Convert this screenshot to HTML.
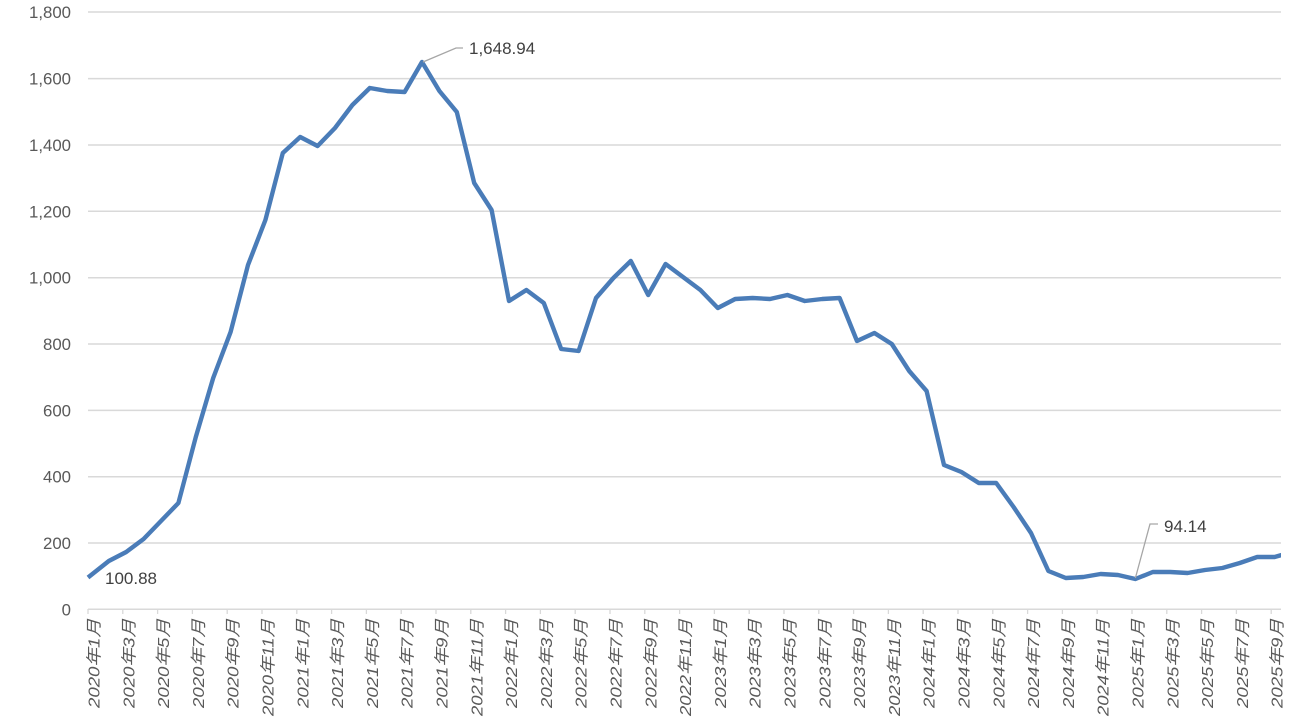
<!DOCTYPE html>
<html><head><meta charset="utf-8"><style>
html,body{margin:0;padding:0;background:#fff;}
svg{display:block;}
.yl{font-family:"Liberation Sans","Noto Sans CJK SC",sans-serif;font-size:16.8px;fill:#595959;}
.xl{font-family:"Liberation Sans","Noto Sans CJK SC",sans-serif;font-size:16px;fill:#595959;font-style:italic;}
.dl{font-family:"Liberation Sans","Noto Sans CJK SC",sans-serif;font-size:17px;fill:#404040;}
</style></head><body>
<svg width="1295" height="723" viewBox="0 0 1295 723" xmlns="http://www.w3.org/2000/svg">
<defs><clipPath id="pc"><rect x="80" y="0" width="1201" height="640"/></clipPath></defs>
<g stroke="#d9d9d9" stroke-width="1.5">
<line x1="88" y1="12" x2="1281" y2="12"/>
<line x1="88" y1="78.6" x2="1281" y2="78.6"/>
<line x1="88" y1="145" x2="1281" y2="145"/>
<line x1="88" y1="211.3" x2="1281" y2="211.3"/>
<line x1="88" y1="277.7" x2="1281" y2="277.7"/>
<line x1="88" y1="344" x2="1281" y2="344"/>
<line x1="88" y1="410.4" x2="1281" y2="410.4"/>
<line x1="88" y1="476.7" x2="1281" y2="476.7"/>
<line x1="88" y1="543" x2="1281" y2="543"/>
<line x1="88" y1="609.3" x2="1281" y2="609.3"/>
</g>
<g class="yl" text-anchor="end">
<text x="71" y="18">1,800</text>
<text x="71" y="84.6">1,600</text>
<text x="71" y="151">1,400</text>
<text x="71" y="217.3">1,200</text>
<text x="71" y="283.7">1,000</text>
<text x="71" y="350">800</text>
<text x="71" y="416.4">600</text>
<text x="71" y="482.7">400</text>
<text x="71" y="549">200</text>
<text x="71" y="615.3">0</text>
</g>
<g stroke="#d9d9d9" stroke-width="1.3">
<line x1="88" y1="609" x2="88" y2="614"/><line x1="122.8" y1="609" x2="122.8" y2="614"/><line x1="157.6" y1="609" x2="157.6" y2="614"/><line x1="192.4" y1="609" x2="192.4" y2="614"/><line x1="227.2" y1="609" x2="227.2" y2="614"/><line x1="262" y1="609" x2="262" y2="614"/><line x1="296.8" y1="609" x2="296.8" y2="614"/><line x1="331.6" y1="609" x2="331.6" y2="614"/><line x1="366.4" y1="609" x2="366.4" y2="614"/><line x1="401.2" y1="609" x2="401.2" y2="614"/><line x1="436" y1="609" x2="436" y2="614"/><line x1="470.8" y1="609" x2="470.8" y2="614"/><line x1="505.6" y1="609" x2="505.6" y2="614"/><line x1="540.4" y1="609" x2="540.4" y2="614"/><line x1="575.2" y1="609" x2="575.2" y2="614"/><line x1="610" y1="609" x2="610" y2="614"/><line x1="644.8" y1="609" x2="644.8" y2="614"/><line x1="679.6" y1="609" x2="679.6" y2="614"/><line x1="714.4" y1="609" x2="714.4" y2="614"/><line x1="749.2" y1="609" x2="749.2" y2="614"/><line x1="784" y1="609" x2="784" y2="614"/><line x1="818.8" y1="609" x2="818.8" y2="614"/><line x1="853.6" y1="609" x2="853.6" y2="614"/><line x1="888.4" y1="609" x2="888.4" y2="614"/><line x1="923.2" y1="609" x2="923.2" y2="614"/><line x1="958" y1="609" x2="958" y2="614"/><line x1="992.8" y1="609" x2="992.8" y2="614"/><line x1="1027.6" y1="609" x2="1027.6" y2="614"/><line x1="1062.4" y1="609" x2="1062.4" y2="614"/><line x1="1097.2" y1="609" x2="1097.2" y2="614"/><line x1="1132" y1="609" x2="1132" y2="614"/><line x1="1166.8" y1="609" x2="1166.8" y2="614"/><line x1="1201.6" y1="609" x2="1201.6" y2="614"/><line x1="1236.4" y1="609" x2="1236.4" y2="614"/><line x1="1271.2" y1="609" x2="1271.2" y2="614"/>
</g>
<g class="xl" text-anchor="end">
<text transform="translate(99.5,619) rotate(-90)" textLength="89" lengthAdjust="spacingAndGlyphs">2020年1月</text>
<text transform="translate(134.3,619) rotate(-90)" textLength="89" lengthAdjust="spacingAndGlyphs">2020年3月</text>
<text transform="translate(169.1,619) rotate(-90)" textLength="89" lengthAdjust="spacingAndGlyphs">2020年5月</text>
<text transform="translate(203.9,619) rotate(-90)" textLength="89" lengthAdjust="spacingAndGlyphs">2020年7月</text>
<text transform="translate(238.7,619) rotate(-90)" textLength="89" lengthAdjust="spacingAndGlyphs">2020年9月</text>
<text transform="translate(273.5,619) rotate(-90)" textLength="97" lengthAdjust="spacingAndGlyphs">2020年11月</text>
<text transform="translate(308.3,619) rotate(-90)" textLength="89" lengthAdjust="spacingAndGlyphs">2021年1月</text>
<text transform="translate(343.1,619) rotate(-90)" textLength="89" lengthAdjust="spacingAndGlyphs">2021年3月</text>
<text transform="translate(377.9,619) rotate(-90)" textLength="89" lengthAdjust="spacingAndGlyphs">2021年5月</text>
<text transform="translate(412.7,619) rotate(-90)" textLength="89" lengthAdjust="spacingAndGlyphs">2021年7月</text>
<text transform="translate(447.5,619) rotate(-90)" textLength="89" lengthAdjust="spacingAndGlyphs">2021年9月</text>
<text transform="translate(482.3,619) rotate(-90)" textLength="97" lengthAdjust="spacingAndGlyphs">2021年11月</text>
<text transform="translate(517.1,619) rotate(-90)" textLength="89" lengthAdjust="spacingAndGlyphs">2022年1月</text>
<text transform="translate(551.9,619) rotate(-90)" textLength="89" lengthAdjust="spacingAndGlyphs">2022年3月</text>
<text transform="translate(586.7,619) rotate(-90)" textLength="89" lengthAdjust="spacingAndGlyphs">2022年5月</text>
<text transform="translate(621.5,619) rotate(-90)" textLength="89" lengthAdjust="spacingAndGlyphs">2022年7月</text>
<text transform="translate(656.3,619) rotate(-90)" textLength="89" lengthAdjust="spacingAndGlyphs">2022年9月</text>
<text transform="translate(691.1,619) rotate(-90)" textLength="97" lengthAdjust="spacingAndGlyphs">2022年11月</text>
<text transform="translate(725.9,619) rotate(-90)" textLength="89" lengthAdjust="spacingAndGlyphs">2023年1月</text>
<text transform="translate(760.7,619) rotate(-90)" textLength="89" lengthAdjust="spacingAndGlyphs">2023年3月</text>
<text transform="translate(795.5,619) rotate(-90)" textLength="89" lengthAdjust="spacingAndGlyphs">2023年5月</text>
<text transform="translate(830.3,619) rotate(-90)" textLength="89" lengthAdjust="spacingAndGlyphs">2023年7月</text>
<text transform="translate(865.1,619) rotate(-90)" textLength="89" lengthAdjust="spacingAndGlyphs">2023年9月</text>
<text transform="translate(899.9,619) rotate(-90)" textLength="97" lengthAdjust="spacingAndGlyphs">2023年11月</text>
<text transform="translate(934.7,619) rotate(-90)" textLength="89" lengthAdjust="spacingAndGlyphs">2024年1月</text>
<text transform="translate(969.5,619) rotate(-90)" textLength="89" lengthAdjust="spacingAndGlyphs">2024年3月</text>
<text transform="translate(1004.3,619) rotate(-90)" textLength="89" lengthAdjust="spacingAndGlyphs">2024年5月</text>
<text transform="translate(1039.1,619) rotate(-90)" textLength="89" lengthAdjust="spacingAndGlyphs">2024年7月</text>
<text transform="translate(1073.9,619) rotate(-90)" textLength="89" lengthAdjust="spacingAndGlyphs">2024年9月</text>
<text transform="translate(1108.7,619) rotate(-90)" textLength="97" lengthAdjust="spacingAndGlyphs">2024年11月</text>
<text transform="translate(1143.5,619) rotate(-90)" textLength="89" lengthAdjust="spacingAndGlyphs">2025年1月</text>
<text transform="translate(1178.3,619) rotate(-90)" textLength="89" lengthAdjust="spacingAndGlyphs">2025年3月</text>
<text transform="translate(1213.1,619) rotate(-90)" textLength="89" lengthAdjust="spacingAndGlyphs">2025年5月</text>
<text transform="translate(1247.9,619) rotate(-90)" textLength="89" lengthAdjust="spacingAndGlyphs">2025年7月</text>
<text transform="translate(1282.7,619) rotate(-90)" textLength="89" lengthAdjust="spacingAndGlyphs">2025年9月</text>
</g>
<g clip-path="url(#pc)">
<polyline fill="none" stroke="#4a7cb8" stroke-width="4.4" stroke-linejoin="round" stroke-linecap="butt" points="
88,577.5 108.8,561 126.2,552 143.6,539 161,521 178.4,503 195.8,437 213.2,378 230.6,332 248,265 265.4,220 282.8,153 300.2,137 317.6,146 335,128 352.4,105 369.8,88 387.2,91 404.6,92 422,62 439.4,91 456.8,112 474.2,183 491.6,210 509,301 526.4,290 543.8,303 561.2,349 578.6,351 596,298 613.4,278 630.8,261 648.2,295 665.6,264 683,277 700.4,290 717.8,308 735.2,299 752.6,298 770,299 787.4,295 804.8,301 822.2,299 839.6,298 857,341 874.4,333 891.8,344 909.2,371 926.6,391 944,465 961.4,472 978.8,483 996.2,483 1013.6,507 1031,533 1048.4,571 1065.8,578 1083.2,577 1100.6,574 1118,575 1135.4,579 1152.8,572 1170.2,572 1187.6,573 1205,570 1222.4,568 1239.8,563 1257.2,557 1274.6,557 1292,552"/>
</g>
<g stroke="#a6a6a6" stroke-width="1.3" fill="none">
<polyline points="423,62 456,48 463,48"/>
<polyline points="1135.4,578 1150,524 1158,524"/>
</g>
<g class="dl">
<text x="469" y="54">1,648.94</text>
<text x="105" y="584">100.88</text>
<text x="1164" y="532">94.14</text>
</g>
</svg>
</body></html>
